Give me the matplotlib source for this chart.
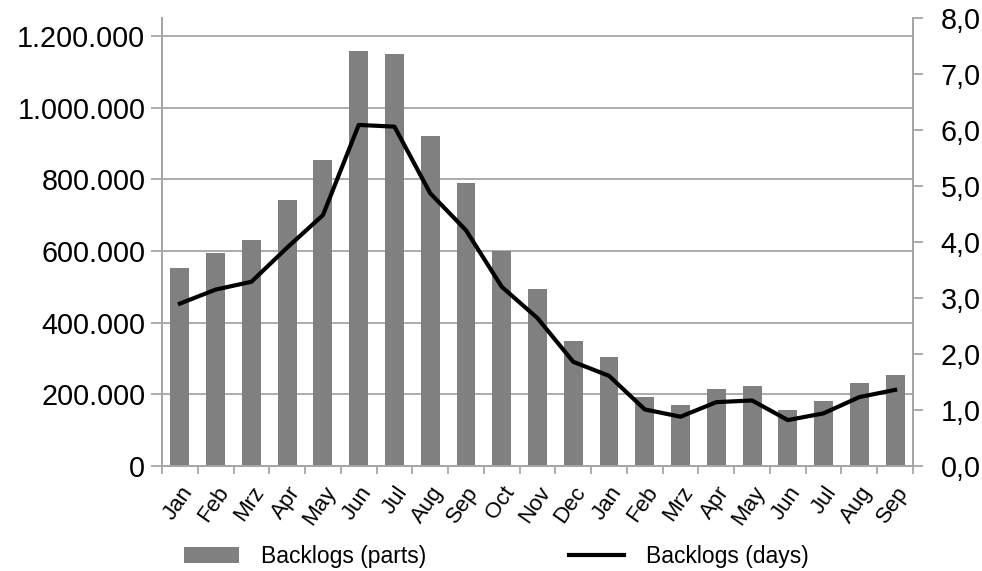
import matplotlib
matplotlib.use("Agg")
import matplotlib.pyplot as plt
from matplotlib.ticker import FuncFormatter, MultipleLocator
import numpy as np

plt.rcParams['font.family'] = ['Liberation Sans', 'DejaVu Sans']

months = ['Jan', 'Feb', 'Mrz', 'Apr', 'May', 'Jun', 'Jul', 'Aug', 'Sep', 'Oct', 'Nov',
          'Dec', 'Jan', 'Feb', 'Mrz', 'Apr', 'May', 'Jun', 'Jul', 'Aug', 'Sep']
parts = [552000, 595000, 630000, 741000, 853000, 1157000, 1150000, 922000, 790000, 599000,
         494000, 350000, 305000, 192000, 170000, 216000, 224000, 155000, 181000, 231000, 254000]
days = [2.90, 3.15, 3.29, 3.90, 4.48, 6.09, 6.06, 4.87, 4.21, 3.20, 2.64, 1.86, 1.61,
        1.01, 0.88, 1.14, 1.17, 0.82, 0.94, 1.23, 1.36]

grey = '#a6a6a6'
x = np.arange(len(months))

fig = plt.figure(figsize=(9.82, 5.71), dpi=100)
ax = fig.add_axes([0.165, 0.1839, 0.7647, 0.7846])
ax2 = ax.twinx()

bars = ax.bar(x, parts, width=0.53, color='#808080', zorder=2)
line, = ax2.plot(x, days, color='black', lw=3, solid_joinstyle='round', zorder=3)

# left axis
ax.set_xlim(-0.5, len(months) - 0.5)
ax.set_ylim(0, 1250000)
ax.yaxis.set_major_locator(MultipleLocator(200000))
ax.yaxis.set_major_formatter(FuncFormatter(lambda v, p: f'{int(v):,}'.replace(',', '.')))
ax.grid(axis='y', color=grey, lw=1.3, zorder=0)
ax.set_axisbelow(True)

# right axis
ax2.set_ylim(0, 8)
ax2.yaxis.set_major_locator(MultipleLocator(1))
ax2.yaxis.set_major_formatter(FuncFormatter(lambda v, p: f'{v:.1f}'.replace('.', ',')))

# x ticks: labels at centres, tick marks at boundaries
ax.set_xticks(x)
ax.set_xticklabels(months, rotation=55, ha='right', rotation_mode='anchor', fontsize=16)
ax.set_xticks(np.arange(-0.5, len(months)), minor=True)
ax.tick_params(axis='x', which='major', length=0, pad=12)
ax.tick_params(axis='x', which='minor', length=6, color=grey, width=1.3)
ax.tick_params(axis='y', length=8, color=grey, width=1.3, labelsize=20.7, pad=4)
ax2.tick_params(axis='y', length=7, color=grey, width=1.3, labelsize=20.7, pad=13)

for a in (ax, ax2):
    a.spines['top'].set_visible(False)
    for s in ('left', 'right', 'bottom'):
        a.spines[s].set_color(grey)
        a.spines[s].set_linewidth(1.3)

fig.legend([bars, line], ['Backlogs (parts)', 'Backlogs (days)'], loc='center',
           bbox_to_anchor=(0.5056, 0.026), ncol=2, frameon=False, fontsize=16.5,
           handlelength=2.4, handletextpad=0.96, columnspacing=6.2)

fig.savefig('out.png', dpi=100)
